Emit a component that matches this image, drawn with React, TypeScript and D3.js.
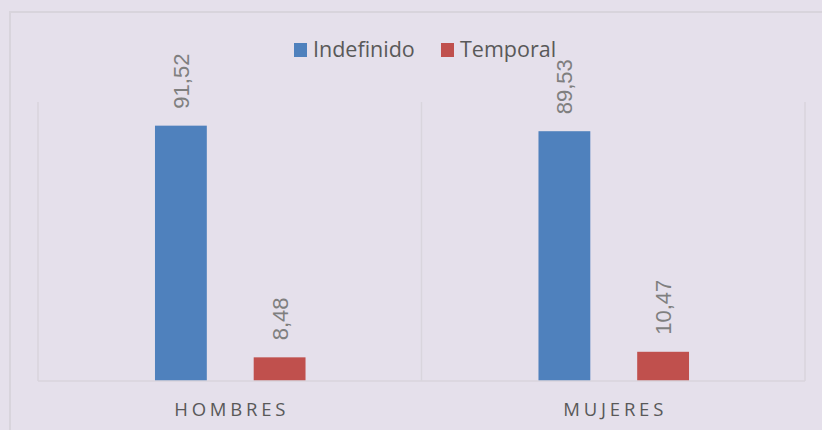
import * as d3 from "d3";

const categories = ["HOMBRES", "MUJERES"];
const series = ["Indefinido", "Temporal"];
const indefinido = [91.52, 89.53];
const temporal = [8.48, 10.47];
const colors = ["#4F81BD", "#C0504D"];

const width = 822;
const height = 430;
const marginLeft = 38;
const marginRight = 17;
const plotTop = 102;
const plotBottom = 381;

export default function App() {
    const values = [indefinido, temporal];

    const x0 = d3.scaleBand<string>().domain(categories).range([marginLeft, width - marginRight]);
    const x1 = d3
        .scaleBand<string>()
        .domain(series)
        .range([0, x0.bandwidth()])
        .paddingInner(0.475)
        .paddingOuter(1.18);
    const y = d3.scaleLinear().domain([0, 100]).range([plotBottom, plotTop]);

    const fmt = (v: number) => d3.format(".2f")(v).replace(".", ",");

    return (
        <svg
            width={width}
            height={height}
            style={{ position: "absolute", left: 0, top: 0 }}
        >
            <rect x={0} y={0} width={width} height={height} fill="#E5E0EB" />
            <rect x={10} y={12} width={width + 20} height={height + 20} fill="none" stroke="#D8D4DC" strokeWidth={2} />

            {/* category separators */}
            {[...categories.map((c) => x0(c)!), width - marginRight].map((gx, i) => (
                <line key={i} x1={gx} x2={gx} y1={plotTop} y2={plotBottom} stroke="#D9D5DD" strokeWidth={1.5} />
            ))}

            {categories.map((c, ci) => (
                <g key={c} transform={`translate(${x0(c)},0)`}>
                    {series.map((s, si) => {
                        const v = values[si][ci];
                        const bx = x1(s)!;
                        const cx = bx + x1.bandwidth() / 2;
                        return (
                            <g key={s}>
                                <rect x={bx + 0.5} y={y(v)} width={x1.bandwidth()} height={plotBottom - y(v)} fill={colors[si]} />
                                <text
                                    transform={`translate(${cx + 8.5},${y(v) - 17}) rotate(-90)`}
                                    fontFamily="'Liberation Sans', Arial, sans-serif"
                                    fontSize={22}
                                    fill="#7F7F7F"
                                >
                                    {fmt(v)}
                                </text>
                            </g>
                        );
                    })}
                    <text
                        x={x0.bandwidth() / 2 + 2}
                        y={416}
                        textAnchor="middle"
                        fontFamily="'Open Sans', sans-serif"
                        fontSize={18.5}
                        letterSpacing={3.8}
                        fill="#595959"
                    >
                        {c}
                    </text>
                </g>
            ))}

            <line x1={marginLeft} x2={width - marginRight} y1={plotBottom} y2={plotBottom} stroke="#D9D5DD" strokeWidth={1.5} />

            {/* legend */}
            {series.map((s, si) => {
                const lx = [294, 441][si];
                return (
                    <g key={s} transform={`translate(${lx},0)`}>
                        <rect x={0} y={43} width={13} height={14} fill={colors[si]} />
                        <text x={19} y={57} fontFamily="'Open Sans', sans-serif" fontSize={21.5} fill="#595959">
                            {s}
                        </text>
                    </g>
                );
            })}
        </svg>
    );
}
